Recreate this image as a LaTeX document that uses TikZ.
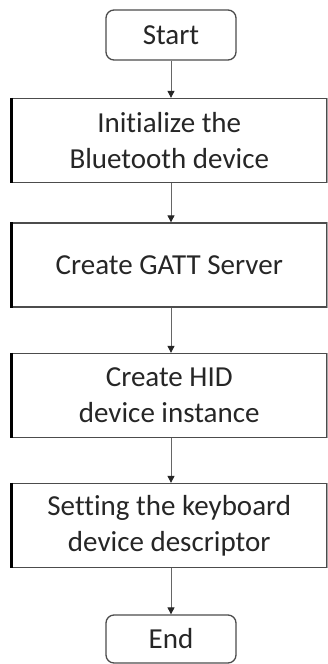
\documentclass[tikz,border=0pt]{standalone}
\usepackage{fontspec}
\setmainfont{Carlito}[Ligatures=NoCommon]
\usetikzlibrary{arrows.meta}
\begin{document}
\begin{tikzpicture}[x=1pt,y=-1pt,
  txt/.style={font=\fontsize{29}{36}\selectfont, text=black!85, align=center, inner sep=0pt},
  procbox/.style={txt, draw=black!70, line width=1.3pt, minimum width=314.5pt, minimum height=84pt},
  termbox/.style={txt, draw=black!70, line width=1.3pt, rounded corners=8pt, minimum width=130pt, minimum height=50pt},
  leftedge/.style={draw=black, line width=2.6pt},
  rightedge/.style={draw=black!35, line width=1.2pt},
  arr/.style={draw=black!60, line width=0.9pt, -{Triangle[length=7pt,width=7pt,color=black!85]}}
]
\useasboundingbox (0,0) rectangle (328,664);
\node[termbox] (s) at (171,35) {Start};
\node[procbox] (b1) at (169.25,140.5) {Initialize the\\Bluetooth device};
\node[procbox] (b2) at (169.25,265) {Create GATT Server};
\node[procbox] (b3) at (169.25,395.5) {Create HID\\device instance};
\node[procbox] (b4) at (169.25,525.5) {Setting the keyboard\\device descriptor};
\node[termbox, minimum height=48pt] (e) at (171,639) {End};
\foreach \b in {b1,b2,b3,b4}{
  \draw[leftedge] (\b.north west) -- (\b.south west);
  \draw[rightedge] (\b.north east) -- (\b.south east);
}
\draw[arr] (s.south) -- (s.south |- b1.north);
\draw[arr] (s.south |- b1.south) -- (s.south |- b2.north);
\draw[arr] (s.south |- b2.south) -- (s.south |- b3.north);
\draw[arr] (s.south |- b3.south) -- (s.south |- b4.north);
\draw[arr] (s.south |- b4.south) -- (e.north);
\end{tikzpicture}
\end{document}
